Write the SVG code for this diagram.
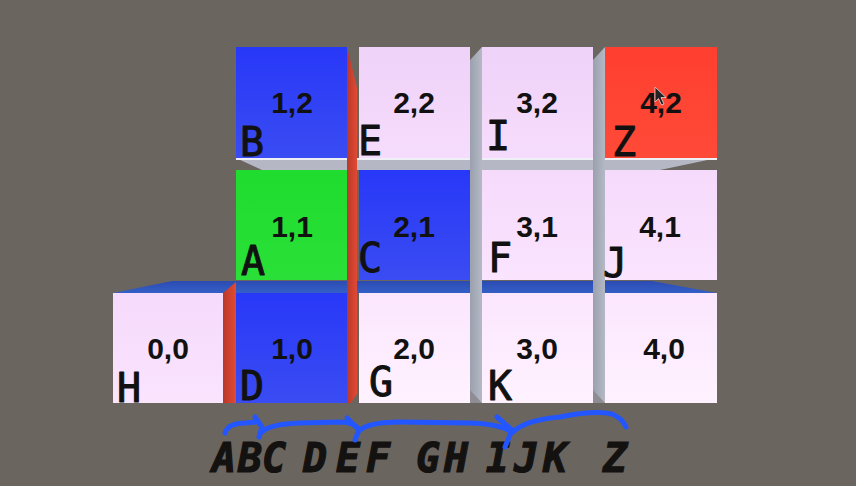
<svg xmlns="http://www.w3.org/2000/svg" width="856" height="486" viewBox="0 0 856 486">
<defs>
<linearGradient id="gBlue" x1="0" y1="0" x2="0" y2="1"><stop offset="0" stop-color="#2838f8"/><stop offset="1" stop-color="#3a4cf2"/></linearGradient>
<linearGradient id="gPink" x1="0" y1="0" x2="0" y2="1"><stop offset="0" stop-color="#efd2f8"/><stop offset="1" stop-color="#f6dcfc"/></linearGradient>
<linearGradient id="gPinkL" x1="0" y1="0" x2="0" y2="1"><stop offset="0" stop-color="#f6dafc"/><stop offset="1" stop-color="#fae4fe"/></linearGradient>
<linearGradient id="gWhite" x1="0" y1="0" x2="0" y2="1"><stop offset="0" stop-color="#fbe6fe"/><stop offset="1" stop-color="#fff2ff"/></linearGradient>
<linearGradient id="gGreen" x1="0" y1="0" x2="0" y2="1"><stop offset="0" stop-color="#1fdc2e"/><stop offset="1" stop-color="#2ae038"/></linearGradient>
<linearGradient id="gRed" x1="0" y1="0" x2="0" y2="1"><stop offset="0" stop-color="#ff3f30"/><stop offset="1" stop-color="#ff4a38"/></linearGradient>
<linearGradient id="gSideRed" x1="0" y1="0" x2="1" y2="0"><stop offset="0" stop-color="#b9382a"/><stop offset="1" stop-color="#e24a33"/></linearGradient>
<linearGradient id="gSideGray" x1="0" y1="0" x2="1" y2="0"><stop offset="0" stop-color="#9aa0ad"/><stop offset="1" stop-color="#b5b9c6"/></linearGradient>
<linearGradient id="gTop" x1="0" y1="0" x2="0" y2="1"><stop offset="0" stop-color="#2b4bb2"/><stop offset="1" stop-color="#3460c6"/></linearGradient>
<style>
.coord{font-family:"Liberation Sans",Arial,sans-serif;font-weight:bold;font-size:30px;fill:#111;text-anchor:middle}
.hand{font-family:"DejaVu Sans Mono",monospace;font-size:40px;fill:#111;stroke:#111;stroke-width:1;stroke-linejoin:round}
.scribble{font-family:"DejaVu Sans Mono",monospace;font-size:40px;font-weight:bold;font-style:italic;fill:#141210;stroke:#141210;stroke-width:1.2}
.arc{fill:none;stroke:#2456ff;stroke-width:5;stroke-linecap:round;stroke-linejoin:round}
</style>
</defs>
<rect width="856" height="486" fill="#6b6560"/>

<g id="sides">
<polygon points="236,158 717,158 660,170 262,170" fill="#b5b8c4"/>
<line x1="236" y1="159" x2="717" y2="159" stroke="#eef0f6" stroke-width="2"/>
<polygon points="113,293 172,281 652,281 717,293" fill="url(#gTop)"/>
<polygon points="347,47 357,88 357,394 351,403 347,403" fill="url(#gSideRed)"/>
<polygon points="223,293 236,282 236,403 223,403" fill="url(#gSideRed)"/>
<polygon points="482,47 470,60 470,403 482,403" fill="url(#gSideGray)"/>
<polygon points="605,47 593,60 593,403 605,403" fill="url(#gSideGray)"/>
<polygon points="470,390 482,403 470,403" fill="#8e8d93"/>
<polygon points="593,390 605,403 593,403" fill="#8e8d93"/>
</g>

<g id="cube-1-2"><rect x="236" y="47" width="111" height="111" fill="url(#gBlue)"/><text class="coord" x="292" y="113">1,2</text><text class="hand" x="240" y="156">B</text></g>
<g id="cube-2-2"><rect x="359" y="47" width="111" height="111" fill="url(#gPink)"/><text class="coord" x="414" y="113">2,2</text><text class="hand" x="358" y="155">E</text></g>
<g id="cube-3-2"><rect x="482" y="47" width="111" height="111" fill="url(#gPink)"/><text class="coord" x="537" y="113">3,2</text><text class="hand" x="486" y="150">I</text></g>
<g id="cube-4-2"><rect x="605" y="47" width="112" height="111" fill="url(#gRed)"/><text class="coord" x="661" y="113">4,2</text><text class="hand" x="612" y="156">Z</text><path d="M655,87 l0,15 l3.5,-3.5 l3,6.5 l2.5,-1 l-3,-6.5 l5,0 z" fill="#222" stroke="#ddd" stroke-width="0.8"/></g>

<g id="cube-1-1"><rect x="236" y="170" width="111" height="110" fill="url(#gGreen)"/><text class="coord" x="292" y="237">1,1</text><text class="hand" x="241" y="275">A</text></g>
<g id="cube-2-1"><rect x="359" y="170" width="111" height="110" fill="url(#gBlue)"/><text class="coord" x="414" y="237">2,1</text><text class="hand" x="358" y="272">C</text></g>
<g id="cube-3-1"><rect x="482" y="170" width="111" height="110" fill="url(#gPinkL)"/><text class="coord" x="537" y="237">3,1</text><text class="hand" x="488" y="272">F</text></g>
<g id="cube-4-1"><rect x="605" y="170" width="112" height="110" fill="url(#gPinkL)"/><text class="coord" x="660" y="237">4,1</text><text class="hand" x="603" y="277">J</text></g>

<g id="cube-0-0"><rect x="113" y="293" width="110" height="110" fill="url(#gPinkL)"/><text class="coord" x="168" y="359">0,0</text><text class="hand" x="117" y="402">H</text></g>
<g id="cube-1-0"><rect x="236" y="293" width="111" height="110" fill="url(#gBlue)"/><text class="coord" x="292" y="359">1,0</text><text class="hand" x="240" y="400">D</text></g>
<g id="cube-2-0"><rect x="359" y="293" width="111" height="110" fill="url(#gWhite)"/><text class="coord" x="414" y="359">2,0</text><text class="hand" x="369" y="396">G</text></g>
<g id="cube-3-0"><rect x="482" y="293" width="111" height="110" fill="url(#gWhite)"/><text class="coord" x="537" y="359">3,0</text><text class="hand" x="488" y="400">K</text></g>
<g id="cube-4-0"><rect x="605" y="293" width="112" height="110" fill="url(#gWhite)"/><text class="coord" x="664" y="359">4,0</text></g>

<g id="scribble"><text class="scribble" x="212 238 262 303 336 366 416 444 486 514 543 603" y="472">ABCDEFGHIJKZ</text></g>

<g id="connectors">
<path class="arc" d="M225,433 Q228,423 245,423 L256,422"/>
<path class="arc" d="M255,417 L262,427 L259,437"/>
<path class="arc" d="M262,432 Q270,424 300,423 L340,422 Q352,422 358,428"/>
<path class="arc" d="M347,418 L359,430 L355,440"/>
<path class="arc" d="M360,430 Q370,422 400,422 L470,423 Q500,424 512,432"/>
<path class="arc" d="M497,417 L512,430 L505,447"/>
<path class="arc" d="M513,432 Q525,420 560,417 Q595,410 612,414 Q622,418 626,427"/>
</g>
</svg>
